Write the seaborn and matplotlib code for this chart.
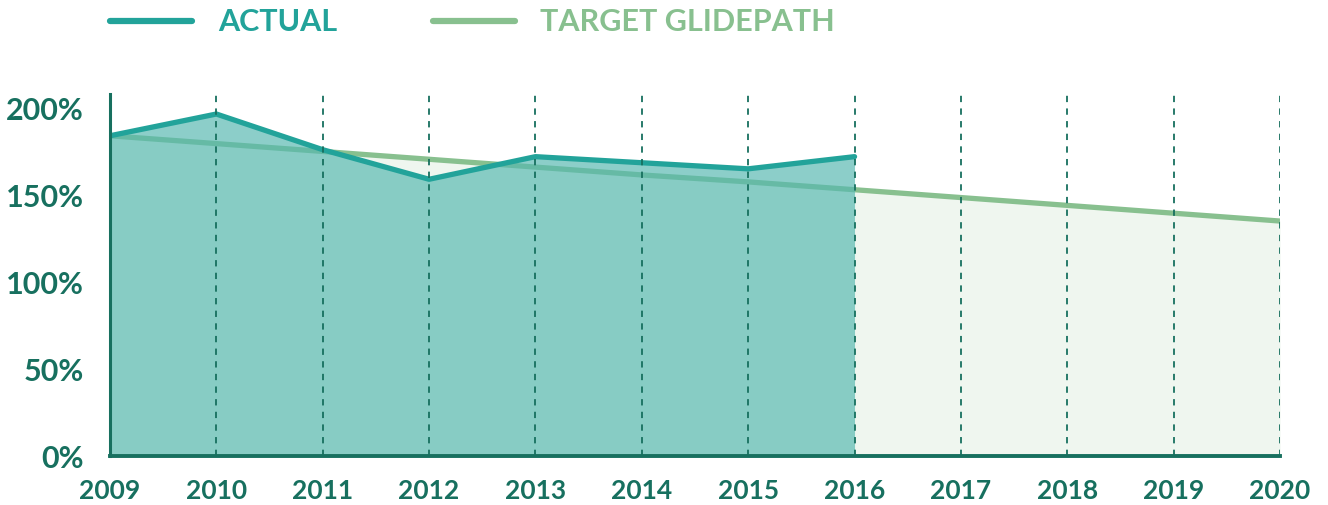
import matplotlib
matplotlib.use("Agg")
import matplotlib.pyplot as plt
import seaborn as sns
import pandas as pd

years = [2009, 2010, 2011, 2012, 2013, 2014, 2015, 2016, 2017, 2018, 2019, 2020]
actual_years = [2009, 2010, 2011, 2012, 2013, 2014, 2015, 2016]
actual = [184, 196.5, 176, 159, 172, 168.5, 165, 172]
target = [184, 179.5, 175, 170.5, 166, 161.5, 157.5, 153, 148.5, 144, 139.5, 135]
y_ticks = [0, 50, 100, 150, 200]
y_labels = ["0%", "50%", "100%", "150%", "200%"]
legend_labels = ["ACTUAL", "TARGET GLIDEPATH"]

c_actual = "#22A39A"
c_actual_fill = "#56B8B0"
c_target = "#88C08F"
c_target_fill = "#EFF6EF"
c_text = "#17705F"

sns.set_theme(style="white")
plt.rcParams["font.family"] = ["Lato", "DejaVu Sans"]

df_a = pd.DataFrame({"year": actual_years, "value": actual})
df_t = pd.DataFrame({"year": years, "value": target})

fig = plt.figure(figsize=(13.28, 5.06), dpi=100)
ax = fig.add_axes([110/1328, 49/506, 1170/1328, 362/506])

ax.fill_between(df_t["year"], 0, df_t["value"], color=c_target_fill, zorder=1, linewidth=0)
sns.lineplot(data=df_t, x="year", y="value", color=c_target, linewidth=3.8, ax=ax, zorder=2)
ax.fill_between(df_a["year"], 0, df_a["value"], color=c_actual_fill, alpha=0.68, zorder=3, linewidth=0)
sns.lineplot(data=df_a, x="year", y="value", color=c_actual, linewidth=3.8, ax=ax, zorder=4)

for y in years[1:]:
    ax.axvline(y, color=c_text, linestyle=(0, (3.5, 3.5)), linewidth=1.3, zorder=5)

ax.set_xlim(2009, 2020)
ax.set_ylim(0, 208)
ax.set_xticks(years)
ax.set_xticklabels([str(y) for y in years], fontsize=19, fontweight="bold", color=c_text)
ax.set_yticks(y_ticks)
ax.set_yticklabels(y_labels, fontsize=22, fontweight="bold", color=c_text)
ax.tick_params(axis="x", length=0, pad=16)
ax.tick_params(axis="y", length=0, pad=19)
ax.set_xlabel("")
ax.set_ylabel("")
for s in ["top", "right"]:
    ax.spines[s].set_visible(False)
ax.spines["left"].set_color(c_text)
ax.spines["left"].set_linewidth(2.2)
ax.spines["bottom"].set_color(c_text)
ax.spines["bottom"].set_linewidth(2.8)
ax.spines["left"].set_zorder(6)
ax.spines["bottom"].set_zorder(6)
ax.set_facecolor("white")

# legend
ly = 1 - 22/506
fig.add_artist(plt.Line2D([110/1328, 192/1328], [ly, ly], color=c_actual, linewidth=4.5))
fig.text(218/1328, ly, legend_labels[0], fontsize=22, fontweight="bold", color=c_actual, va="center", ha="left")
fig.add_artist(plt.Line2D([433/1328, 515/1328], [ly, ly], color=c_target, linewidth=4.5))
fig.text(540/1328, ly, legend_labels[1], fontsize=22, fontweight="bold", color=c_target, va="center", ha="left")

fig.savefig("out.png", dpi=100, facecolor="white")
